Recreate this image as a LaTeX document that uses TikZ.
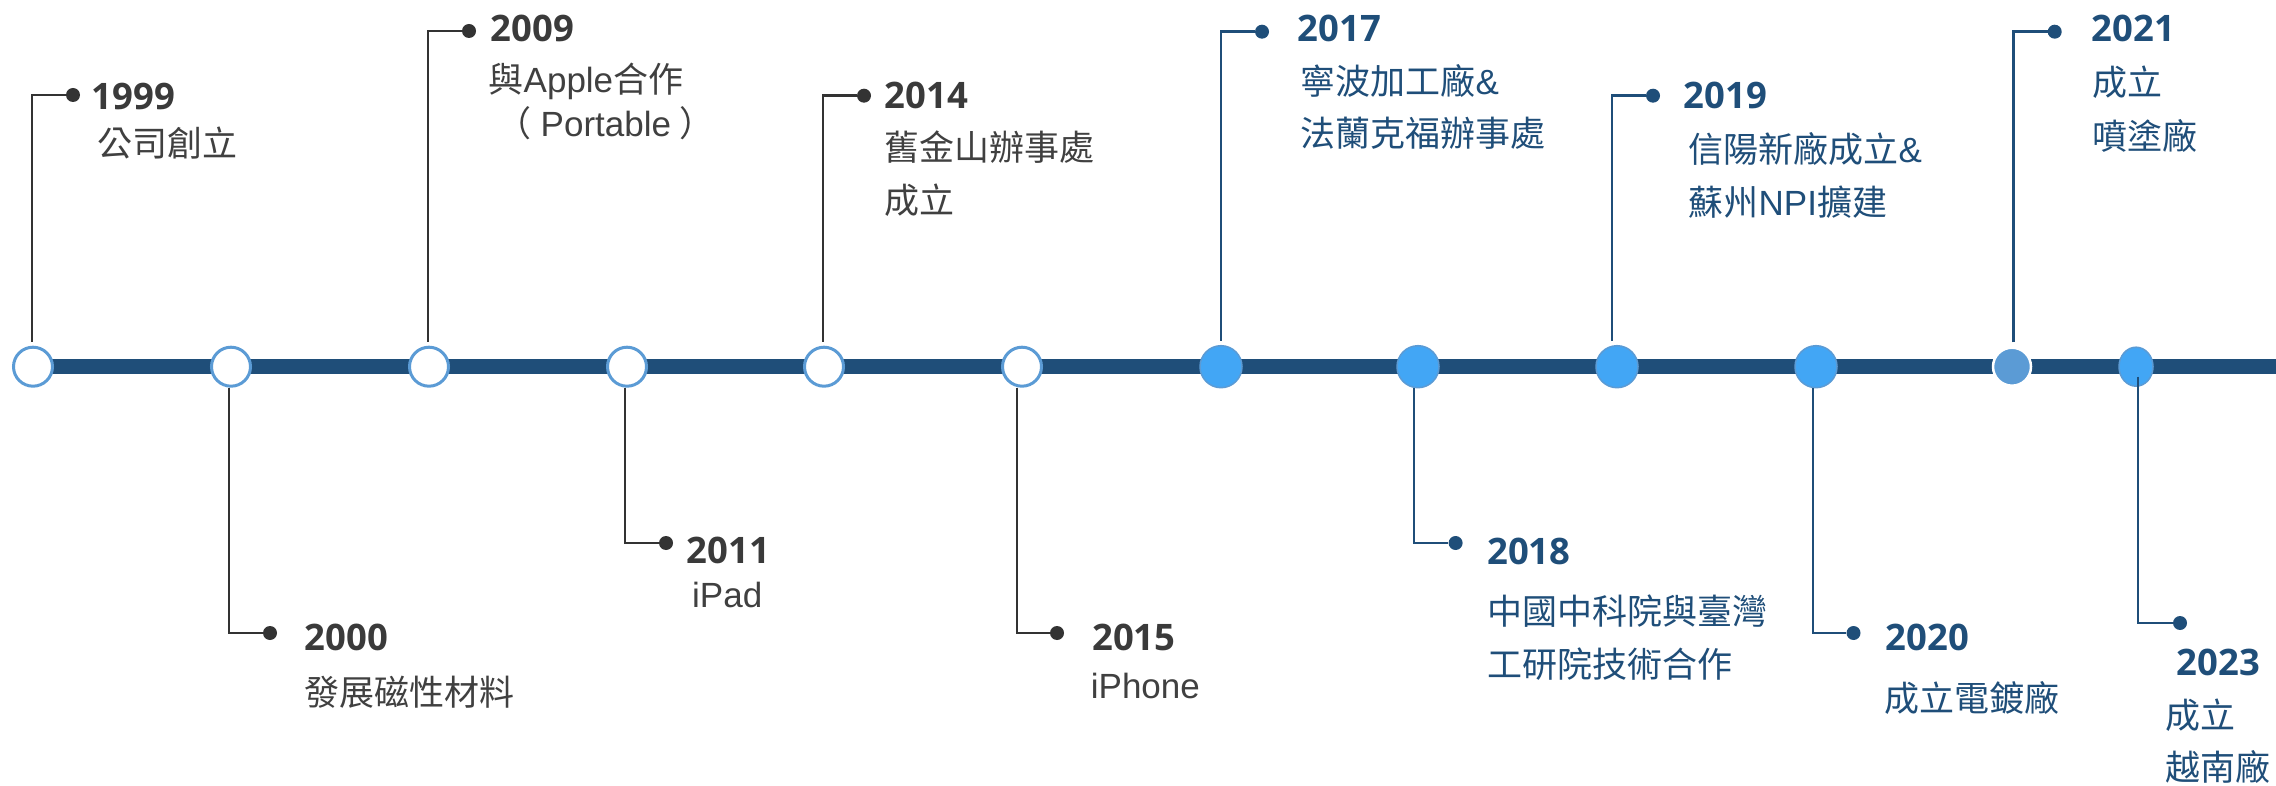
\documentclass[tikz,border=0pt]{standalone}
\usepackage{fontspec}
\setmainfont{Liberation Sans}
\newfontfamily\zhfont{Noto Sans CJK TC}
\newfontfamily\yrfont{Open Sans}
\usetikzlibrary{shapes.geometric}
\definecolor{navy}{HTML}{1F4E79}
\definecolor{darkline}{HTML}{333333}
\definecolor{yeartext}{HTML}{3A3A3A}
\definecolor{desctext}{HTML}{404040}
\definecolor{ringblue}{HTML}{5B9BD5}
\definecolor{bright}{HTML}{42A6F5}
\newcommand{\zh}[1]{{\zhfont #1}}
\begin{document}
\begin{tikzpicture}[x=1pt,y=-1pt,
  yearlbl/.style={anchor=base west, inner sep=0pt, font=\yrfont\bfseries\fontsize{36.5}{40}\selectfont},
  yeardark/.style={yearlbl, text=yeartext},
  yearblue/.style={yearlbl, text=navy},
  desclbl/.style={anchor=base west, inner sep=0pt, font=\fontsize{35}{40}\selectfont},
  descgray/.style={desclbl, text=desctext},
  descblue/.style={desclbl, text=navy},
  ringopen/.style={circle, draw=ringblue, line width=3pt, fill=white, minimum size=39pt, inner sep=0pt},
  ringfull/.style={circle, draw=ringblue, line width=1.5pt, fill=bright, minimum size=42pt, inner sep=0pt},
  ringmid/.style={circle, draw=white, line width=2.5pt, fill=ringblue, minimum size=38pt, inner sep=0pt},
  ringlast/.style={ellipse, draw=ringblue, line width=1.5pt, fill=bright, minimum width=34pt, minimum height=39pt, inner sep=0pt},
  dotdark/.style={circle, fill=darkline, minimum size=14pt, inner sep=0pt},
  dotblue/.style={circle, fill=navy, minimum size=14pt, inner sep=0pt},
  stemdark/.style={draw=darkline, line width=2.5pt},
  stemblue/.style={draw=navy, line width=2.5pt},
  barline/.style={draw=navy, line width=15.3pt}
]
\useasboundingbox (0,0) rectangle (2276,786);

% timeline bar
\coordinate (p1) at (33,366.7);
\coordinate (barend) at (2276,366.7);
\draw[barline] (p1) -- (barend);

% circles
\node[ringopen] (c1) at (33,366.7) {};
\node[ringopen] (c2) at (231,366.7) {};
\node[ringopen] (c3) at (429,366.7) {};
\node[ringopen] (c4) at (627,366.7) {};
\node[ringopen] (c5) at (824,366.7) {};
\node[ringopen] (c6) at (1022,366.7) {};
\node[ringfull] (c7) at (1221,366.7) {};
\node[ringfull] (c8) at (1418,366.7) {};
\node[ringfull] (c9) at (1617,366.7) {};
\node[ringfull] (c10) at (1816,366.7) {};
\node[ringmid] (c11) at (2012,366.7) {};
\node[ringlast] (c12) at (2136,366.7) {};

% dots
\node[dotdark] (d1) at (73,95) {};
\node[dotdark] (d2) at (270,633) {};
\node[dotdark] (d3) at (469,31) {};
\node[dotdark] (d4) at (666,543) {};
\node[dotdark] (d5) at (864,95.7) {};
\node[dotdark] (d6) at (1057,633) {};
\node[dotblue] (d7) at (1262,31.7) {};
\node[dotblue] (d8) at (1455.6,543) {};
\node[dotblue] (d9) at (1653,95.7) {};
\node[dotblue] (d10) at (1853.5,633) {};
\node[dotblue] (d11) at (2054.7,31.7) {};
\node[dotblue] (d12) at (2180,623) {};

% stems
\draw[stemdark] ([xshift=-1pt,yshift=4pt]c1.north) |- (d1);
\draw[stemdark] ([xshift=-2pt]c2.south) |- (d2);
\draw[stemdark] ([xshift=-1pt,yshift=4pt]c3.north) |- (d3);
\draw[stemdark] ([xshift=-2pt]c4.south) |- (d4);
\draw[stemdark] ([xshift=-1pt,yshift=4pt]c5.north) |- (d5);
\draw[stemdark] ([xshift=-5pt]c6.south) |- (d6);
\draw[stemblue] ([xshift=0pt,yshift=4pt]c7.north) |- (d7);
\draw[stemblue] ([xshift=-4pt]c8.south) |- (d8);
\draw[stemblue] ([xshift=-5pt,yshift=4pt]c9.north) |- (d9);
\draw[stemblue] ([xshift=-3pt]c10.south) |- (d10);
\draw[stemblue] ([xshift=1.5pt,yshift=4pt]c11.north) |- (d11);
\draw[stemblue] ([xshift=2pt,yshift=-10pt]c12.center) |- (d12);

% years
\node[yeardark] (y1) at (91.5,109.3) {1999};
\node[yeardark] (y2) at (304.5,650) {2000};
\node[yeardark] (y3) at (490.5,41.7) {2009};
\node[yeardark] (y4) at (686.5,563) {2011};
\node[yeardark] (y5) at (884.5,109) {2014};
\node[yeardark] (y6) at (1092,650) {2015};
\node[yearblue] (y7) at (1297.5,41.7) {2017};
\node[yearblue] (y8) at (1487,564) {2018};
\node[yearblue] (y9) at (1683.5,109) {2019};
\node[yearblue] (y10) at (1885.5,650) {2020};
\node[yearblue] (y11) at (2091.5,42) {2021};
\node[yearblue] (y12) at (2176.5,675.5) {2023};

% descriptions
\node[descgray] (t1) at (97.5,157) {\zh{公司創立}};
\node[descgray] (t2) at (304.5,705) {\zh{發展磁性材料}};
\node[descgray] (t3a) at (488.5,93) {\zh{與}Apple\zh{合作}};
\node[descgray] (t3b) at (496.5,137) {\zh{（}\hspace{9pt}Portable\hspace{8pt}\zh{）}};
\node[descgray] (t4) at (692,607) {iPad};
\node[descgray] (t5a) at (884.5,161) {\zh{舊金山辦事處}};
\node[descgray] (t5b) at (884.5,214) {\zh{成立}};
\node[descgray] (t6) at (1090.7,698) {iPhone};
\node[descblue] (t7a) at (1300.5,95) {\zh{寧波加工廠}\&};
\node[descblue] (t7b) at (1300.5,147) {\zh{法蘭克福辦事處}};
\node[descblue] (t8a) at (1487,624) {\zh{中國中科院與臺灣}};
\node[descblue] (t8b) at (1487,677) {\zh{工研院技術合作}};
\node[descblue] (t9a) at (1688.5,163) {\zh{信陽新廠成立}\&};
\node[descblue] (t9b) at (1688.5,216) {\zh{蘇州}NPI\zh{擴建}};
\node[descblue] (t10) at (1884.5,711) {\zh{成立電鍍廠}};
\node[descblue] (t11a) at (2092.5,96) {\zh{成立}};
\node[descblue] (t11b) at (2092.5,150) {\zh{噴塗廠}};
\node[descblue] (t12a) at (2165.5,728) {\zh{成立}};
\node[descblue] (t12b) at (2165.5,780) {\zh{越南廠}};
\end{tikzpicture}
\end{document}
